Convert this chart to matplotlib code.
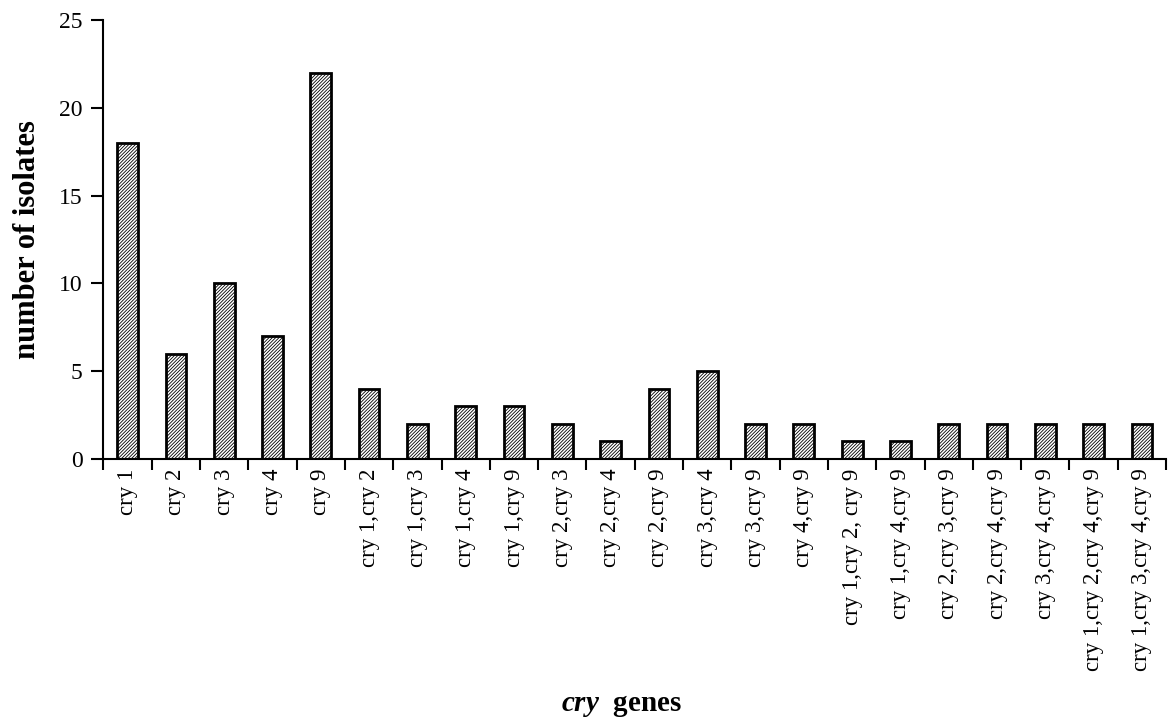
import matplotlib
matplotlib.use('Agg')
from matplotlib import pyplot as plt
import numpy as np

genes = ['cry 1', 'cry 2', 'cry 3', 'cry 4', 'cry 9', 'cry 1,cry 2', 'cry 1,cry 3',
         'cry 1,cry 4', 'cry 1,cry 9', 'cry 2,cry 3', 'cry 2,cry 4', 'cry 2,cry 9',
         'cry 3,cry 4', 'cry 3,cry 9', 'cry 4,cry 9', 'cry 1,cry 2, cry 9',
         'cry 1,cry 4,cry 9', 'cry 2,cry 3,cry 9', 'cry 2,cry 4,cry 9',
         'cry 3,cry 4,cry 9', 'cry 1,cry 2,cry 4,cry 9', 'cry 1,cry 3,cry 4,cry 9']
isolates = [18, 6, 10, 7, 22, 4, 2, 3, 3, 2, 1, 4, 5, 2, 2, 1, 1, 2, 2, 2, 2, 2]
yticks = [0, 5, 10, 15, 20, 25]

plt.rcParams['font.family'] = 'Liberation Serif'
plt.rcParams['mathtext.fontset'] = 'custom'
plt.rcParams['mathtext.it'] = 'Liberation Serif:italic:bold'
plt.rcParams['hatch.linewidth'] = 0.6

fig = plt.figure(figsize=(11.69, 7.17), dpi=100)
ax = fig.add_axes([0.0885, 0.36, 0.909, 0.612])

x = np.arange(len(genes))
ax.bar(x, isolates, width=0.43, color='white', edgecolor='black',
       linewidth=2, hatch='/' * 10)

ax.set_xlim(-0.5, len(genes) - 0.5)
ax.set_ylim(0, 25)
ax.set_yticks(yticks)
ax.set_yticklabels([str(v) for v in yticks], fontsize=17)
ax.set_xticks(x)
ax.set_xticklabels(genes, rotation=90, fontsize=16.5)
ax.tick_params(axis='x', length=0, pad=7)
ax.set_xticks(np.arange(len(genes) + 1) - 0.5, minor=True)
ax.tick_params(axis='x', which='minor', length=8, width=1.5, direction='out')
ax.tick_params(axis='y', length=9, width=1.5, direction='out', pad=6)

for s in ['top', 'right']:
    ax.spines[s].set_visible(False)
for s in ['left', 'bottom']:
    ax.spines[s].set_linewidth(1.5)

ax.set_ylabel('number of isolates', fontsize=22, weight='bold', labelpad=12)
fig.text(0.532, 0.008, r'$cry$  genes', fontsize=21, weight='bold', ha='center')

fig.savefig('out.png', dpi=100)
